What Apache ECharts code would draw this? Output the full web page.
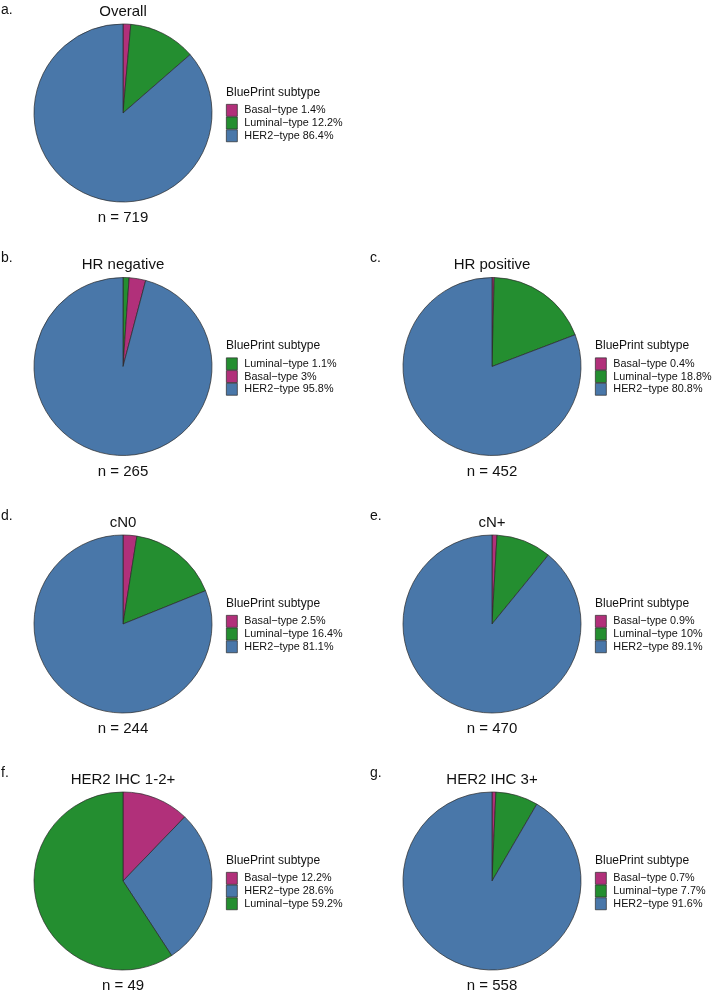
<!DOCTYPE html>
<html>
<head>
<meta charset="utf-8">
<script src="https://cdn.jsdelivr.net/npm/echarts@6/dist/echarts.min.js"></script>
<style>html,body{margin:0;padding:0;background:#fff}#chart{width:712px;height:992px}</style>
</head>
<body>
<div id="chart"></div>
<script>
// ---- data ----
const panelLetters = ['a.', 'b.', 'c.', 'd.', 'e.', 'f.', 'g.'];
const panelTitles = ['Overall', 'HR negative', 'HR positive', 'cN0', 'cN+', 'HER2 IHC 1-2+', 'HER2 IHC 3+'];
const nValues = [719, 265, 452, 244, 470, 49, 558];
const catsA = ['Basal\u2212type', 'Luminal\u2212type', 'HER2\u2212type'];
const valsA = [1.4, 12.2, 86.4];
const catsB = ['Luminal\u2212type', 'Basal\u2212type', 'HER2\u2212type'];
const valsB = [1.1, 3, 95.8];
const catsC = ['Basal\u2212type', 'Luminal\u2212type', 'HER2\u2212type'];
const valsC = [0.4, 18.8, 80.8];
const catsD = ['Basal\u2212type', 'Luminal\u2212type', 'HER2\u2212type'];
const valsD = [2.5, 16.4, 81.1];
const catsE = ['Basal\u2212type', 'Luminal\u2212type', 'HER2\u2212type'];
const valsE = [0.9, 10, 89.1];
const catsF = ['Basal\u2212type', 'HER2\u2212type', 'Luminal\u2212type'];
const valsF = [12.2, 28.6, 59.2];
const catsG = ['Basal\u2212type', 'Luminal\u2212type', 'HER2\u2212type'];
const valsG = [0.7, 7.7, 91.6];
const legendTitle = 'BluePrint subtype';

// ---- styling / layout ----
const colorMap = {
  'Basal\u2212type': '#B1307A',
  'Luminal\u2212type': '#248E30',
  'HER2\u2212type': '#4977A9'
};
const allCats = [catsA, catsB, catsC, catsD, catsE, catsF, catsG];
const allVals = [valsA, valsB, valsC, valsD, valsE, valsF, valsG];
const centers = [[123, 113], [123, 366.5], [492, 366.5], [123, 624], [492, 624], [123, 881], [492, 881]];
const R = 89;
const FONT = '"Liberation Sans", Arial, Helvetica, sans-serif';

const series = [], legends = [], graphics = [];
allCats.forEach((cats, i) => {
  const [cx, cy] = centers[i];
  const names = cats.map((c, k) => c + ' ' + allVals[i][k] + '%');
  series.push({
    type: 'pie',
    center: [cx, cy],
    radius: [0, R],
    startAngle: 90,
    clockwise: true,
    label: { show: false },
    labelLine: { show: false },
    emphasis: { disabled: true },
    silent: true,
    itemStyle: { borderColor: '#2a2a2a', borderWidth: 0.7 },
    data: cats.map((c, k) => ({ name: names[k], value: allVals[i][k], itemStyle: { color: colorMap[c] } }))
  });
  const lx = cx + 103;
  legends.push({
    data: names,
    orient: 'vertical',
    left: lx,
    top: cy - 9,
    padding: 0,
    itemGap: 0,
    itemWidth: 11,
    itemHeight: 12,
    icon: 'rect',
    selectedMode: false,
    itemStyle: { borderColor: '#2a2a2a', borderWidth: 0.7 },
    textStyle: { fontFamily: FONT, fontSize: 10.8, color: '#111', lineHeight: 12, padding: [0, 0, 0, 2] }
  });
  const textEl = (txt, x, y, size, align) => ({
    type: 'text', x: x, y: y, silent: true,
    style: { text: txt, fontSize: size, fontFamily: FONT, fill: '#111',
      textAlign: align, align: align, textVerticalAlign: 'middle', verticalAlign: 'middle' }
  });
  const colX = cx - 122;
  graphics.push(textEl(panelLetters[i], colX, i === 0 ? 10 : cy - 108, 14, 'left'));
  graphics.push(textEl(panelTitles[i], cx, cy - 101.5, 15, 'center'));
  graphics.push(textEl('n = ' + nValues[i], cx, cy + 105, 15, 'center'));
  graphics.push(textEl(legendTitle, lx, cy - 20.5, 12, 'left'));
});

const chart = echarts.init(document.getElementById('chart'), null, { renderer: 'canvas' });
chart.setOption({
  animation: false,
  backgroundColor: '#fff',
  legend: legends,
  series: series,
  graphic: graphics
});
</script>
</body>
</html>
